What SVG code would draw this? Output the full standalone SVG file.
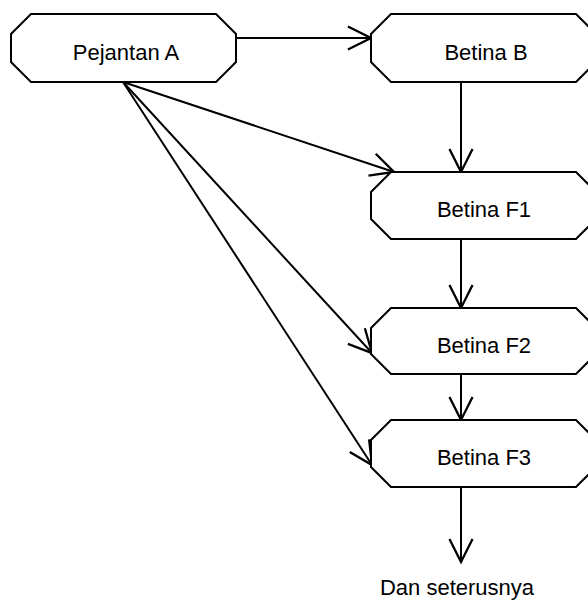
<svg xmlns="http://www.w3.org/2000/svg" width="588" height="601" viewBox="0 0 588 601">
<defs>
<marker id="arr" markerUnits="userSpaceOnUse" markerWidth="30" markerHeight="30" viewBox="-22 -12 26 24" refX="0" refY="0" orient="auto" overflow="visible">
<path d="M-20,-10 L0,0 L-20,10" fill="none" stroke="#000" stroke-width="2"/>
</marker>
</defs>
<style>
.box{fill:#fff;stroke:#000;stroke-width:2;stroke-linejoin:miter}
.lbl{font-family:"Liberation Sans",Arial,sans-serif;font-size:22px;fill:#000;text-anchor:middle}
.edge{fill:none;stroke:#000;stroke-width:2;marker-end:url(#arr)}
</style>
<rect width="588" height="601" fill="#fff"/>
<g id="connectors">
<path class="edge" d="M236,38 H371"/>
<path class="edge" d="M461,82 V172"/>
<path class="edge" d="M123,82 L394,172"/>
<path class="edge" d="M461,239 V308"/>
<path class="edge" d="M123,82 L372,353"/>
<path class="edge" d="M461,374 V420"/>
<path class="edge" d="M123,82 L372,465"/>
<path class="edge" d="M461,487 V562"/>
</g>
<g id="pejantanA">
<path class="box" d="M31,14 H216 L236,34 V62 L216,82 H31 L11,62 V34 Z"/>
<text class="lbl" x="126" y="60">Pejantan A</text>
</g>
<g id="betinaB">
<path class="box" d="M391,14 H576 L596,34 V62 L576,82 H391 L371,62 V34 Z"/>
<text class="lbl" x="486" y="60">Betina B</text>
</g>
<g id="betinaF1">
<path class="box" d="M391,172 H576 L596,192 V219 L576,239 H391 L371,219 V192 Z"/>
<text class="lbl" x="484" y="217">Betina F1</text>
</g>
<g id="betinaF2">
<path class="box" d="M391,308 H576 L596,328 V354 L576,374 H391 L371,354 V328 Z"/>
<text class="lbl" x="484" y="353">Betina F2</text>
</g>
<g id="betinaF3">
<path class="box" d="M391,420 H576 L596,440 V467 L576,487 H391 L371,467 V440 Z"/>
<text class="lbl" x="484" y="465">Betina F3</text>
</g>
<g id="danSeterusnya">
<text class="lbl" x="457" y="595">Dan seterusnya</text>
</g>
</svg>
